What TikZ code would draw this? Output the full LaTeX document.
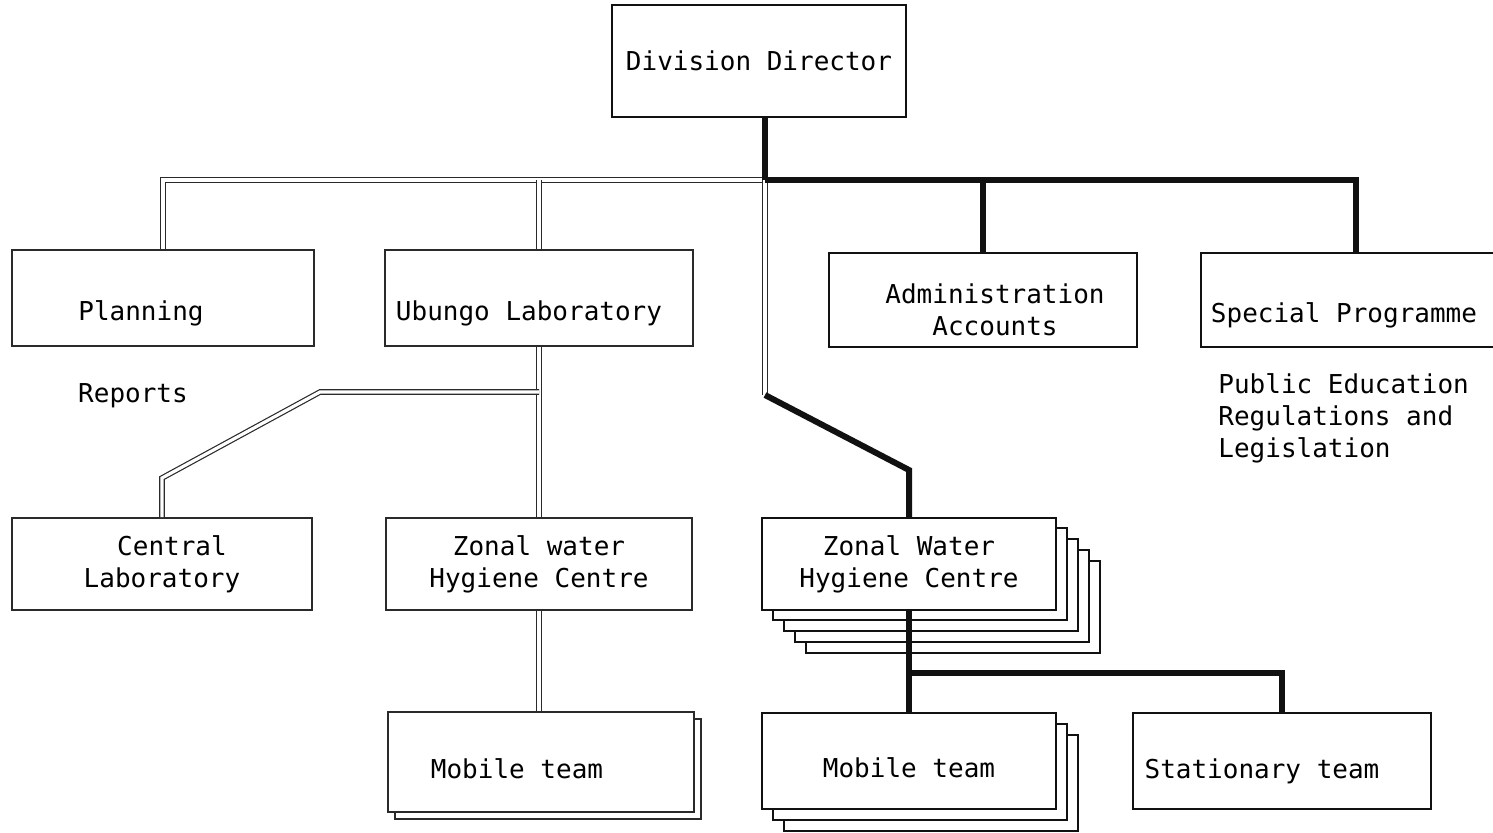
\documentclass[tikz,border=0pt]{standalone}
\usepackage{fontspec}
\setmonofont{DejaVu Sans Mono}
\usepackage{xcolor}
\usepackage{tikz}
\usetikzlibrary{positioning,calc}
\definecolor{Ink}{HTML}{111111}
\definecolor{Faint}{HTML}{2A2A2A}
\tikzset{
  unit/.style={draw=Ink,fill=white,line width=1.1pt,align=center,font=\ttfamily\fontsize{13}{16}\selectfont,inner sep=0pt},
  lightunit/.style={unit,draw=Faint,line width=0.9pt},
  stackcopy/.style={draw=Ink,fill=white,line width=1.1pt,inner sep=0pt},
  label/.style={align=left,font=\ttfamily\fontsize{13}{16}\selectfont,inner sep=0pt},
  low/.style={text height=#1},
  strong/.style={draw=Ink,line width=3pt},
  hollow/.style={draw=Faint,line width=0.6pt,double=white,double distance=1.6pt}
}

\begin{document}
\begin{tikzpicture}[x=0.5pt,y=-0.5pt]
  \useasboundingbox (0,0) rectangle (1493,832);
  \node[unit,minimum width=147pt,minimum height=56pt] (director) at (759,61) {Division Director};
  \node[lightunit,low=25pt,minimum width=151pt,minimum height=48pt] (planning) at (163,298) {Planning\hspace*{22pt}};
  \node[lightunit,low=25pt,minimum width=154pt,minimum height=48pt] (ubungo) at (539,298) {Ubungo Laboratory\hspace*{10pt}};
  \node[unit,low=36pt,minimum width=154pt,minimum height=47pt] (admin) at (983,300) {\hspace*{12pt}Administration\\\hspace*{12pt}Accounts};
  \node[unit,low=25pt,minimum width=155pt,minimum height=47pt] (special) at (1356,300) {Special Programme\hspace*{12pt}};
  \node[label] (reports) at (133,396) {Reports};
  \node[label,anchor=north west] (public) at (1218,373) {Public Education\\Regulations and\\Legislation};
  \node[lightunit,minimum width=150pt,minimum height=46pt] (central) at (162,564) {\hspace*{10pt}Central\\Laboratory};
  \node[lightunit,minimum width=153pt,minimum height=46pt] (zonalL) at (539,564) {Zonal water\\Hygiene Centre};
  % copies behind the zonal centres and the mobile teams
  \foreach \i in {4,3,2,1}
    \node[stackcopy,minimum width=147pt,minimum height=46pt] at (909+11*\i,563+11*\i) {};
  \node[unit,minimum width=147pt,minimum height=46pt] (zonalR) at (909,564) {Zonal Water\\Hygiene Centre};
  \node[stackcopy,draw=Faint,minimum width=153pt,minimum height=50pt] at (548,769) {};
  \node[lightunit,low=17pt,minimum width=153pt,minimum height=50pt] (mobileL) at (541,762) {Mobile team\hspace*{24pt}};
  \foreach \i in {2,1}
    \node[stackcopy,minimum width=147pt,minimum height=48pt] at (909+11*\i,761+11*\i) {};
  \node[unit,low=17pt,minimum width=147pt,minimum height=48pt] (mobileR) at (909,761) {Mobile team};
  \node[unit,low=20pt,minimum width=149pt,minimum height=48pt] (stationary) at (1282,761) {Stationary team\hspace*{20pt}};
  \coordinate (hub) at (765,180);
  \coordinate (bendA) at (765,395);
  \coordinate (bendB) at (909,470);
  \coordinate (labA) at (320,392);
  \coordinate (labB) at (162,478);
  \coordinate (teams) at (909,673);
  % left side
  \draw[hollow] (hub) -| (planning.north);
  \draw[hollow] (ubungo.north |- hub) -- (ubungo.north);
  \draw[hollow] (ubungo.south) -- (zonalL.north);
  \draw[hollow] (ubungo.south |- labA) -- (labA) -- (labB) -- (central.north);
  \draw[hollow] (zonalL.south) -- (zonalL.south |- mobileL.north);
  \draw[hollow] (hub) -- (bendA);
  % right side
  \draw[strong] (director.south -| hub) -- (hub);
  \draw[strong] (hub) -| (special.north);
  \draw[strong] (admin.north |- hub) -- (admin.north);
  \draw[strong] (bendA) -- (bendB) -- (zonalR.north);
  \draw[strong] (zonalR.south) -- (mobileR.north);
  \draw[strong] (teams) -| (stationary.north);
\end{tikzpicture}
\end{document}
